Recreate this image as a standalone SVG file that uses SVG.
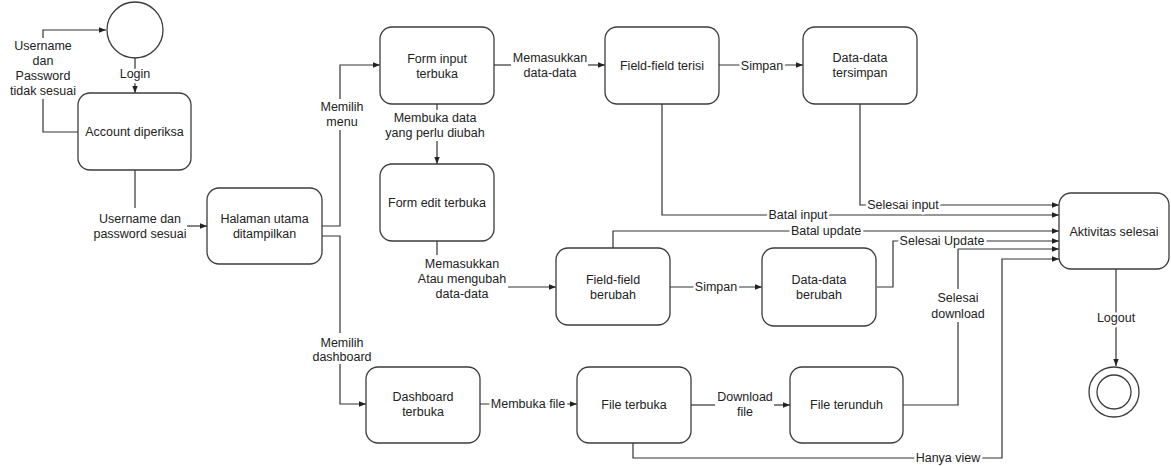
<svg xmlns="http://www.w3.org/2000/svg" width="1171" height="466" viewBox="0 0 1171 466">
<style>
.box{fill:#fff;stroke:#3c3c3c;stroke-width:1.3}
.t{font-family:"Liberation Sans",Arial,sans-serif;font-size:12.5px;fill:#222;text-anchor:middle}
.lb{font-family:"Liberation Sans",Arial,sans-serif;font-size:12.5px;fill:#222;text-anchor:middle;stroke:#fff;stroke-width:5;stroke-linejoin:round;paint-order:stroke}
.c{fill:none;stroke:#333;stroke-width:1.2}
.a{marker-end:url(#ah)}
</style>
<defs>
<marker id="ah" markerUnits="userSpaceOnUse" markerWidth="8" markerHeight="8" refX="7" refY="4" orient="auto">
<path d="M0,1.3 L7,4 L0,6.7 Z" fill="#222"/>
</marker>
</defs>
<rect width="1171" height="466" fill="#fff"/>
<g id="connectors">
<path class="c a" d="M135,58 V93"/>
<path class="c" d="M78,132 H43 V99"/>
<path class="c a" d="M43,38 V30 H106"/>
<path class="c" d="M135,170 V208"/>
<path class="c a" d="M187,226 H207"/>
<path class="c" d="M322,226 H340 V130"/>
<path class="c a" d="M340,99 V65 H380"/>
<path class="c" d="M322,236 H340 V333"/>
<path class="c a" d="M340,364 V404 H366"/>
<path class="c" d="M494,65 H511"/>
<path class="c a" d="M588,65 H605"/>
<path class="c a" d="M719,65 H803"/>
<path class="c" d="M437,104 V110"/>
<path class="c a" d="M437,141 V164"/>
<path class="c" d="M437,241 V255"/>
<path class="c a" d="M508,287 H556"/>
<path class="c a" d="M670,287 H762"/>
<path class="c a" d="M877,287 H893 V241 H1059"/>
<path class="c a" d="M662,104 V215 H1059"/>
<path class="c a" d="M860,104 V205 H1059"/>
<path class="c a" d="M613,248 V231 H1059"/>
<path class="c" d="M903,405 H958 V322"/>
<path class="c a" d="M958,289 V249 H1059"/>
<path class="c a" d="M633,443 V458 H1002 V259 H1059"/>
<path class="c a" d="M480,404 H577"/>
<path class="c" d="M691,405 H715"/>
<path class="c a" d="M774,405 H790"/>
<path class="c a" d="M1116,269 V366"/>
<text class="lb" x="135" y="78">Login</text>
<text class="t" x="43" y="50">Username</text>
<text class="t" x="43" y="65">dan</text>
<text class="t" x="43" y="80">Password</text>
<text class="t" x="43" y="95">tidak sesuai</text>
<text class="t" x="140" y="223">Username dan</text>
<text class="t" x="140" y="238">password sesuai</text>
<text class="t" x="342" y="111">Memilih</text>
<text class="t" x="342" y="126">menu</text>
<text class="t" x="342" y="347">Memilih</text>
<text class="t" x="342" y="361">dashboard</text>
<text class="t" x="550" y="62">Memasukkan</text>
<text class="t" x="550" y="77">data-data</text>
<text class="lb" x="762" y="70">Simpan</text>
<text class="t" x="435" y="122">Membuka data</text>
<text class="t" x="435" y="137">yang perlu diubah</text>
<text class="t" x="462" y="268">Memasukkan</text>
<text class="t" x="462" y="283">Atau mengubah</text>
<text class="t" x="462" y="298">data-data</text>
<text class="lb" x="716" y="291">Simpan</text>
<text class="lb" x="942" y="245">Selesai Update</text>
<text class="lb" x="798" y="219">Batal input</text>
<text class="lb" x="903" y="209">Selesai input</text>
<text class="lb" x="826" y="235">Batal update</text>
<text class="t" x="958" y="302">Selesai</text>
<text class="t" x="958" y="318">download</text>
<text class="lb" x="948" y="462">Hanya view</text>
<text class="lb" x="528" y="408">Membuka file</text>
<text class="t" x="745" y="401">Download</text>
<text class="t" x="745" y="416">file</text>
<text class="lb" x="1116" y="322">Logout</text>
</g>
<g id="start"><circle cx="135" cy="30" r="28" fill="#fff" stroke="#3c3c3c" stroke-width="1.3"/></g>
<g id="account"><rect class="box" x="78" y="93" width="113" height="77" rx="12"/><text class="t" x="134.5" y="136">Account diperiksa</text></g>
<g id="halaman"><rect class="box" x="207" y="188" width="115" height="76" rx="12"/><text class="t" x="264.5" y="223">Halaman utama</text><text class="t" x="264.5" y="238">ditampilkan</text></g>
<g id="forminput"><rect class="box" x="380" y="27" width="114" height="77" rx="12"/><text class="t" x="437" y="63">Form input</text><text class="t" x="437" y="78">terbuka</text></g>
<g id="terisi"><rect class="box" x="605" y="27" width="114" height="77" rx="12"/><text class="t" x="662" y="70">Field-field terisi</text></g>
<g id="tersimpan"><rect class="box" x="803" y="27" width="114" height="77" rx="12"/><text class="t" x="860" y="62">Data-data</text><text class="t" x="860" y="77">tersimpan</text></g>
<g id="formedit"><rect class="box" x="380" y="164" width="114" height="77" rx="12"/><text class="t" x="437" y="207">Form edit terbuka</text></g>
<g id="berubah1"><rect class="box" x="556" y="248" width="114" height="77" rx="12"/><text class="t" x="613" y="284">Field-field</text><text class="t" x="613" y="299">berubah</text></g>
<g id="berubah2"><rect class="box" x="762" y="248" width="114" height="78" rx="12"/><text class="t" x="819" y="284">Data-data</text><text class="t" x="819" y="299">berubah</text></g>
<g id="aktivitas"><rect class="box" x="1059" y="193" width="110" height="76" rx="12"/><text class="t" x="1114" y="236">Aktivitas selesai</text></g>
<g id="dashboard"><rect class="box" x="366" y="367" width="114" height="76" rx="12"/><text class="t" x="423" y="401">Dashboard</text><text class="t" x="423" y="416">terbuka</text></g>
<g id="fileterbuka"><rect class="box" x="577" y="367" width="114" height="76" rx="12"/><text class="t" x="634" y="409">File terbuka</text></g>
<g id="fileterunduh"><rect class="box" x="790" y="367" width="113" height="76" rx="12"/><text class="t" x="846.5" y="409">File terunduh</text></g>
<g id="end"><circle cx="1114" cy="392" r="25" fill="#fff" stroke="#3c3c3c" stroke-width="1.3"/><circle cx="1114" cy="392" r="17" fill="none" stroke="#3c3c3c" stroke-width="1.3"/></g>
</svg>
